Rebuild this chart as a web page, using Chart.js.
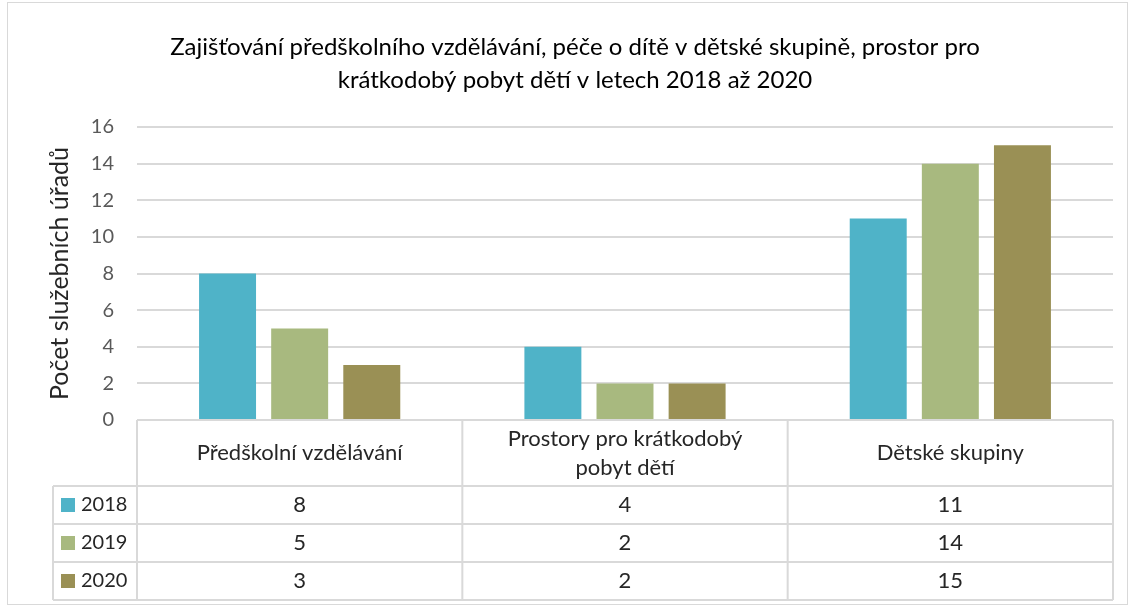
<!DOCTYPE html>
<html lang="cs">
<head>
    <meta charset="UTF-8">
    <title>Zajišťování předškolního vzdělávání</title>
    <script src="https://cdn.jsdelivr.net/npm/chart.js"></script>
    <style>
        html, body { margin: 0; padding: 0; background: #fff; }
        canvas { display: block; }
    </style>
</head>
<body>
    <canvas id="chart" width="1131" height="607"></canvas>
    <script>
        // Data
        const categories = ['Předškolní vzdělávání', ['Prostory pro krátkodobý', 'pobyt dětí'], 'Dětské skupiny'];
        const years = ['2018', '2019', '2020'];
        const values2018 = [8, 4, 11];
        const values2019 = [5, 2, 14];
        const values2020 = [3, 2, 15];
        const yTicks = [0, 2, 4, 6, 8, 10, 12, 14, 16];
        const colors = ['#4fb3c8', '#a8b97f', '#9a9055'];
        const titleLines = ['Zajišťování předškolního vzdělávání, péče o dítě v dětské skupině, prostor pro',
                            'krátkodobý pobyt dětí v letech 2018 až 2020'];

        const FONT = 'Lato, "Open Sans", sans-serif';

        // Frame round the whole chart, and the title
        const framePlugin = {
            id: 'frame',
            beforeDraw(chart) {
                const ctx = chart.ctx;
                ctx.save();
                ctx.fillStyle = '#fff';
                ctx.fillRect(0, 0, chart.width, chart.height);
                ctx.strokeStyle = '#d9d9d9';
                ctx.lineWidth = 1;
                ctx.strokeRect(7.5, 2.5, 1120, 602);

                ctx.fillStyle = '#000';
                ctx.font = '24px ' + FONT;
                ctx.textAlign = 'center';
                ctx.textBaseline = 'middle';
                titleLines.forEach((line, k) => ctx.fillText(line, 575, 47 + k * 33));
                ctx.restore();
            }
        };

        // Data table under the plot, Excel style
        const tablePlugin = {
            id: 'dataTable',
            afterDraw(chart) {
                const ctx = chart.ctx;
                const area = chart.chartArea;
                const xs = chart.scales.x;
                const n = categories.length;
                const colW = (area.right - area.left) / n;
                const top = area.bottom;
                const headBottom = top + 66;
                const rowH = 38;
                const legendLeft = 53;
                const bottom = headBottom + rowH * years.length;

                ctx.save();
                ctx.strokeStyle = '#d9d9d9';
                ctx.lineWidth = 2;
                ctx.beginPath();
                ctx.moveTo(area.left, top);
                ctx.lineTo(area.right, top);
                for (let r = 0; r <= years.length; r++) {
                    const y = headBottom + r * rowH;
                    ctx.moveTo(legendLeft, y);
                    ctx.lineTo(area.right, y);
                }
                for (let c = 0; c <= n; c++) {
                    const x = area.left + c * colW;
                    ctx.moveTo(x, top);
                    ctx.lineTo(x, bottom);
                }
                ctx.moveTo(legendLeft, headBottom);
                ctx.lineTo(legendLeft, bottom);
                ctx.stroke();

                ctx.fillStyle = '#262626';
                ctx.font = '22px ' + FONT;
                ctx.textAlign = 'center';
                ctx.textBaseline = 'middle';
                categories.forEach((cat, i) => {
                    const x = xs.getPixelForValue(i);
                    const lines = Array.isArray(cat) ? cat : [cat];
                    const mid = (top + headBottom) / 2;
                    lines.forEach((line, k) => {
                        ctx.fillText(line, x, mid + (k - (lines.length - 1) / 2) * 29);
                    });
                });

                chart.data.datasets.forEach((ds, r) => {
                    const yMid = headBottom + r * rowH + rowH / 2;
                    ctx.textAlign = 'center';
                    ds.data.forEach((v, i) => {
                        ctx.fillText(String(v), xs.getPixelForValue(i), yMid);
                    });
                    ctx.fillStyle = ds.backgroundColor;
                    ctx.fillRect(61, yMid - 7, 14, 14);
                    ctx.fillStyle = '#262626';
                    ctx.textAlign = 'left';
                    ctx.font = '20px ' + FONT;
                    ctx.fillText(ds.label, 81, yMid);
                    ctx.font = '22px ' + FONT;
                });
                ctx.restore();
            }
        };

        const seriesValues = [values2018, values2019, values2020];

        new Chart(document.getElementById('chart'), {
            type: 'bar',
            data: {
                labels: categories,
                datasets: years.map((y, i) => ({
                    label: y,
                    data: seriesValues[i],
                    backgroundColor: colors[i],
                    borderWidth: 0,
                    categoryPercentage: 0.665,
                    barPercentage: 0.79
                }))
            },
            options: {
                responsive: false,
                animation: false,
                layout: {
                    padding: { top: 127, left: 0, right: 18, bottom: 187 }
                },
                plugins: {
                    legend: { display: false },
                    tooltip: { enabled: false },
                    title: { display: false }
                },
                scales: {
                    x: {
                        display: false
                    },
                    y: {
                        min: 0,
                        max: 16,
                        afterBuildTicks(scale) {
                            scale.ticks = yTicks.map(v => ({ value: v }));
                        },
                        afterFit(scale) {
                            scale.width = 137;
                        },
                        border: { display: false },
                        grid: { color: '#d9d9d9', lineWidth: 2, drawTicks: false },
                        ticks: {
                            color: '#595959',
                            padding: 23,
                            font: { family: FONT, size: 20 }
                        },
                        title: {
                            display: true,
                            text: 'Počet služebních úřadů',
                            color: '#262626',
                            font: { family: FONT, size: 25 },
                            padding: { top: 45, bottom: 0 }
                        }
                    }
                }
            },
            plugins: [framePlugin, tablePlugin]
        });
    </script>
</body>
</html>
